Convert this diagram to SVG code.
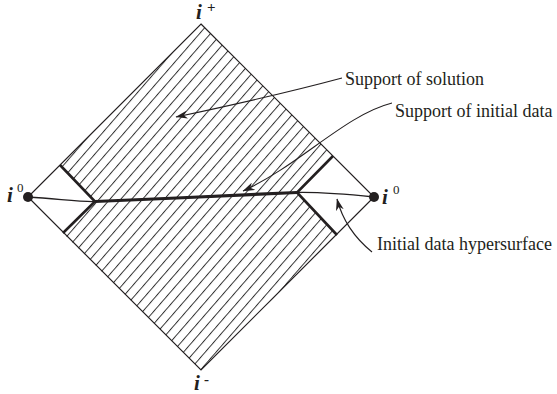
<svg xmlns="http://www.w3.org/2000/svg" width="557" height="394" viewBox="0 0 557 394">
<style>
.edge{fill:none;stroke:#231f20;stroke-width:1.2}
.thin{fill:none;stroke:#231f20;stroke-width:1.3}
.thick{fill:none;stroke:#231f20;stroke-width:3.2}
.bar{fill:none;stroke:#231f20;stroke-width:2.6}
.lead{fill:none;stroke:#231f20;stroke-width:1.1;marker-end:url(#arr)}
.lbl{font-family:"Liberation Serif","Times New Roman",serif;font-size:18px;fill:#231f20}
.ii{font-family:"Liberation Serif","Times New Roman",serif;font-size:21px;font-weight:bold;font-style:italic;fill:#231f20}
.sup{font-family:"Liberation Serif","Times New Roman",serif;font-size:13px;fill:#231f20}
.supb{font-family:"Liberation Serif","Times New Roman",serif;font-size:15px;font-weight:bold;fill:#231f20}
</style>
<defs>
<pattern id="h" patternUnits="userSpaceOnUse" width="8.2" height="20" patternTransform="rotate(41)">
<line x1="0.5" y1="-1" x2="0.5" y2="21" stroke="#2a2a2a" stroke-width="0.95"/>
</pattern>
<marker id="arr" viewBox="0 0 12 8" refX="11.5" refY="4" markerWidth="12" markerHeight="8" markerUnits="userSpaceOnUse" orient="auto">
<path d="M0,0 L12,4 L0,8 L3.5,4 Z" fill="#231f20"/>
</marker>
</defs>
<g id="support-solution-top">
<path d="M201,24 L333,156 L297,192.5 C240,195 160,199 95,201.5 L60,165 Z" fill="url(#h)"/>
</g>
<g id="support-solution-bottom">
<path d="M95,201.5 C160,199 240,195 297,192.5 L337,235 L201,370 L63,233 Z" fill="url(#h)"/>
</g>
<g id="diamond">
<path class="edge" d="M201,24 L374,197 L201,370 L28,197 Z"/>
</g>
<g id="initial-surface">
<path class="thin" d="M28,197 C60,199 80,202 95,201.5"/>
<path class="thin" d="M297,192.5 C325,192 350,194.5 374,197"/>
<path class="thick" d="M95,201.5 C160,199 240,195 297,192.5"/>
</g>
<g id="boundaries">
<path class="bar" d="M60,165 L95,201.5 L63,233"/>
<path class="bar" d="M333,156 L297,192.5 L337,235"/>
</g>
<g id="i-plus"><text class="ii" x="196" y="19">i</text><text class="supb" x="207" y="12">+</text></g>
<g id="i-minus"><text class="ii" x="194" y="390">i</text><text class="supb" x="204" y="384">-</text></g>
<g id="i0-left"><circle cx="28" cy="197" r="5" fill="#231f20"/><text class="ii" x="7" y="202">i</text><text class="sup" x="17" y="192">0</text></g>
<g id="i0-right"><circle cx="374" cy="197" r="5" fill="#231f20"/><text class="ii" x="382" y="204">i</text><text class="sup" x="393" y="194">0</text></g>
<g id="connectors">
<path class="lead" d="M342,78 Q275,96 176,117"/>
<path class="lead" d="M392,103 C345,115 300,165 243,191"/>
<path class="lead" d="M372,252 Q345,230 337,199"/>
</g>
<g id="labels">
<text class="lbl" x="345" y="85">Support of solution</text>
<text class="lbl" x="395" y="117">Support of initial data</text>
<text class="lbl" x="377" y="250">Initial data hypersurface</text>
</g>
</svg>
